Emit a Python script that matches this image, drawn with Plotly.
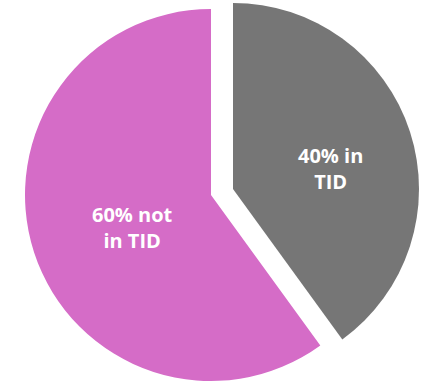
import plotly.graph_objects as go

categories = ["in TID", "not in TID"]
values = [40, 60]
slice_text = ["40% in<br>TID", "60% not<br>in TID"]
colors = ["#767676", "#D56CC7"]
clear = "rgba(0,0,0,0)"

W, H = 429, 383

fig = go.Figure()

# pink (not pulled) slice
fig.add_trace(go.Pie(
    labels=categories, values=values, sort=False, direction="clockwise", rotation=0,
    textinfo="none",
    marker=dict(colors=[clear, colors[1]], line=dict(width=0)),
    domain=dict(x=[25 / W, 397 / W], y=[2 / H, 374 / H]),
    showlegend=False, hoverinfo="label+percent",
))

# grey (pulled out) slice
fig.add_trace(go.Pie(
    labels=categories, values=values, sort=False, direction="clockwise", rotation=0,
    textinfo="none",
    marker=dict(colors=[colors[0], clear], line=dict(width=0)),
    domain=dict(x=[47 / W, 419 / W], y=[8 / H, 380 / H]),
    showlegend=False, hoverinfo="label+percent",
))

label_pos = [(330 / W, 1 - 168 / H), (132 / W, 1 - 227 / H)]
for txt, (ax, ay) in zip(slice_text, label_pos):
    fig.add_annotation(
        text=txt, x=ax, y=ay, xref="paper", yref="paper", showarrow=False,
        xanchor="center", yanchor="middle", align="center",
        font=dict(color="white", size=20, family="Open Sans", weight="bold"),
    )

fig.update_layout(
    width=W, height=H, margin=dict(l=0, r=0, t=0, b=0),
    paper_bgcolor="white", plot_bgcolor="white",
)

fig.write_html("out.html")
